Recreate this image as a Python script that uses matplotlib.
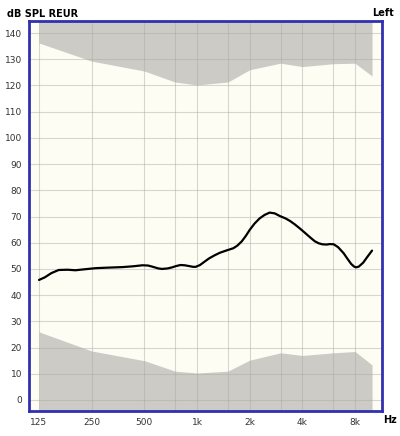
import matplotlib
matplotlib.use("Agg")
import matplotlib.pyplot as plt
import numpy as np

# limits of the shaded (out of range) zones
lim_freq = [125, 250, 500, 750, 1000, 1500, 2000, 3000, 4000, 6000, 8000, 10000]
upper_lim = [136.2, 129.3, 125.5, 121.3, 120.2, 121.3, 126.0, 128.5, 127.2, 128.3, 128.5, 123.6]
lower_lim = [26.0, 18.7, 15.0, 11.0, 10.3, 11.0, 15.2, 18.0, 17.0, 18.0, 18.5, 13.4]

# measured response curve
curve_freq = [125, 135, 147, 162, 182, 202, 230, 264, 310, 374, 430, 488, 525, 560,
              600, 632, 680, 720, 760, 804, 850, 900, 950, 983, 1040, 1100,
              1170, 1260, 1353, 1480, 1612, 1700, 1800, 1900, 2000, 2130, 2280, 2430,
              2600, 2780, 2970, 3200, 3400, 3620, 3860, 4100, 4400, 4700,
              4950, 5200, 5500, 5750, 6040, 6400, 6880, 7250, 7600, 7900, 8100,
              8400, 8900, 9400, 10000]
curve_db = [45.8, 46.8, 48.4, 49.6, 49.7, 49.5, 49.9, 50.3, 50.5, 50.7, 51.0, 51.4, 51.3, 50.8,
            50.2, 50.0, 50.2, 50.6, 51.1, 51.5, 51.4, 51.1, 50.8, 50.8, 51.5, 52.7,
            54.0, 55.2, 56.2, 57.1, 57.9, 58.9, 60.5, 62.6, 64.9, 67.3, 69.3, 70.6,
            71.5, 71.2, 70.2, 69.3, 68.3, 67.0, 65.5, 64.0, 62.2, 60.6,
            59.8, 59.4, 59.3, 59.5, 59.4, 58.3, 56.0, 53.8, 51.9, 50.9, 50.6,
            50.9, 52.4, 54.6, 57.0]

x_ticks = [125, 250, 500, 1000, 2000, 4000, 8000]
x_labels = ["125", "250", "500", "1k", "2k", "4k", "8k"]
x_grid = [125, 250, 500, 750, 1000, 1500, 2000, 3000, 4000, 6000, 8000]
y_ticks = list(range(0, 141, 10))

fig = plt.figure(figsize=(4.0, 4.36), dpi=100)
ax = fig.add_axes([29 / 400, 1 - 411 / 436, 353 / 400, 390 / 436])
ax.set_xscale("log")
ax.set_xlim(109.6, 11400)
ax.set_ylim(-4.2, 144.6)
ax.set_facecolor("#fdfdf4")

ytop, ybot = 144.6, -4.2
ax.fill_between(lim_freq, upper_lim, ytop, color="#cdcbc6", lw=0, zorder=1)
ax.fill_between(lim_freq, ybot, lower_lim, color="#cdcbc6", lw=0, zorder=1)

for f in x_grid:
    ax.axvline(f, color="#a8a8a0", lw=0.8, alpha=0.45, zorder=2)
for y in y_ticks:
    ax.axhline(y, color="#a8a8a0", lw=0.8, alpha=0.45, zorder=2)

ax.plot(curve_freq, curve_db, color="black", lw=1.6, zorder=3,
        solid_joinstyle="round", solid_capstyle="round")

ax.set_xticks(x_ticks)
ax.set_xticklabels(x_labels)
ax.minorticks_off()
ax.set_yticks(y_ticks)
ax.tick_params(length=0, labelsize=6.5, colors="#333333", pad=5)

for s in ax.spines.values():
    s.set_color("#3030b0")
    s.set_linewidth(2)

fig.text(7 / 400, 1 - 14 / 436, "dB SPL REUR", fontsize=7, fontweight="bold",
         va="center", ha="left")
fig.text(394 / 400, 1 - 13 / 436, "Left", fontsize=7, fontweight="bold",
         va="center", ha="right")
fig.text(397 / 400, 1 - 420 / 436, "Hz", fontsize=7, fontweight="bold",
         va="center", ha="right")

fig.savefig("out.png", dpi=100)
